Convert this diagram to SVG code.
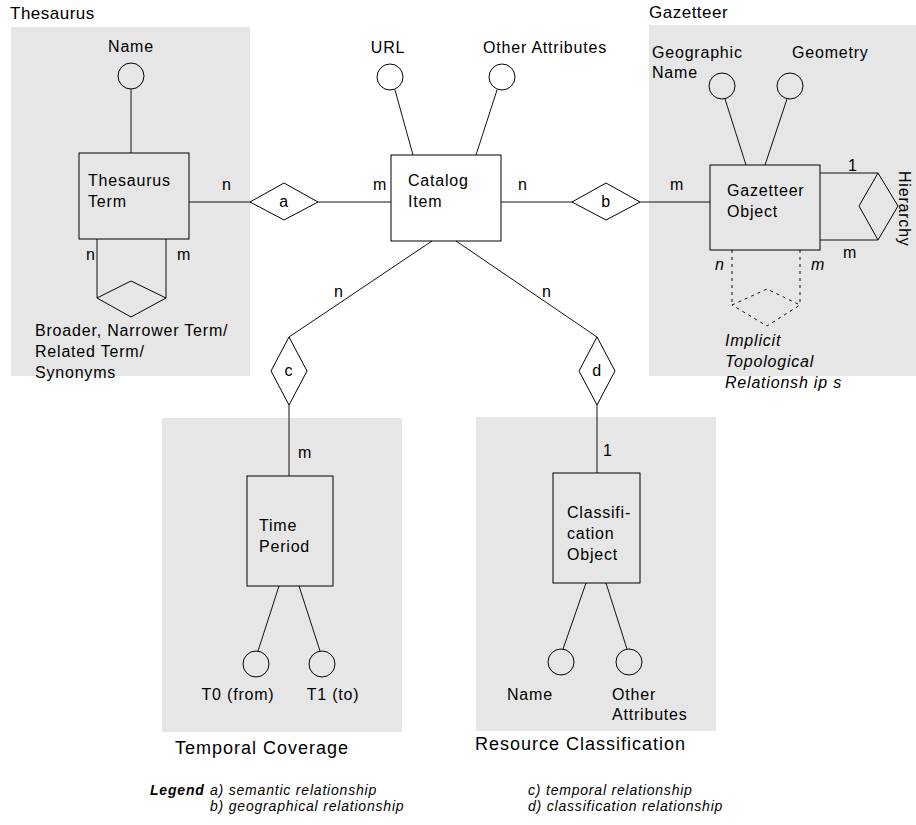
<svg xmlns="http://www.w3.org/2000/svg" width="916" height="825" viewBox="0 0 916 825">
<style>
text{font-family:"Liberation Sans",Arial,sans-serif;font-size:16px;letter-spacing:0.8px;fill:#000}
.t{font-size:18px;letter-spacing:1px}
.tt{font-size:17px;letter-spacing:0.5px}
.ital{font-style:italic}
.lg{font-style:italic;font-size:14px;letter-spacing:0.8px}
.lgb{font-style:italic;font-weight:bold;font-size:14px;letter-spacing:0.8px}
.mid{text-anchor:middle}
.panel{fill:#e6e6e6;stroke:none}
.box{fill:none;stroke:#000;stroke-width:1}
.ln{fill:none;stroke:#111;stroke-width:1}
.dash{fill:none;stroke:#111;stroke-width:1;stroke-dasharray:3,4}
</style>
<g id="panels">
<rect class="panel" x="11" y="27" width="239" height="349"/>
<rect class="panel" x="649" y="25" width="267" height="351"/>
<rect class="panel" x="162" y="418" width="240" height="314"/>
<rect class="panel" x="476" y="417" width="240" height="314"/>
<text class="tt" x="10" y="19">Thesaurus</text>
<text class="tt" x="649" y="18">Gazetteer</text>
<text class="t" x="175" y="754">Temporal Coverage</text>
<text class="t" x="475" y="750">Resource Classification</text>
</g>
<g id="connectors">
<line class="ln" x1="131" y1="89" x2="131" y2="153"/>
<line class="ln" x1="189" y1="202" x2="250" y2="202"/>
<line class="ln" x1="318" y1="202" x2="391" y2="202"/>
<line class="ln" x1="97" y1="239" x2="97" y2="298"/>
<line class="ln" x1="166" y1="239" x2="166" y2="298"/>
<line class="ln" x1="395" y1="90" x2="413" y2="155"/>
<line class="ln" x1="497" y1="90" x2="476" y2="155"/>
<line class="ln" x1="501" y1="202" x2="572" y2="202"/>
<line class="ln" x1="640" y1="202" x2="710" y2="202"/>
<line class="ln" x1="725" y1="99" x2="746" y2="165"/>
<line class="ln" x1="787" y1="99" x2="765" y2="165"/>
<line class="ln" x1="820" y1="173" x2="878" y2="173"/>
<line class="ln" x1="820" y1="240" x2="878" y2="240"/>
<line class="dash" x1="732" y1="250" x2="732" y2="305"/>
<line class="dash" x1="800" y1="250" x2="800" y2="305"/>
<line class="ln" x1="432" y1="241" x2="289" y2="337"/>
<line class="ln" x1="456" y1="241" x2="597" y2="337"/>
<line class="ln" x1="289" y1="405" x2="289" y2="476"/>
<line class="ln" x1="597" y1="405" x2="597" y2="473"/>
<line class="ln" x1="279" y1="586" x2="258" y2="651"/>
<line class="ln" x1="299" y1="586" x2="320" y2="651"/>
<line class="ln" x1="586" y1="583" x2="563" y2="649"/>
<line class="ln" x1="606" y1="583" x2="627" y2="649"/>
<text x="222" y="190">n</text>
<text x="373" y="190">m</text>
<text x="518" y="190">n</text>
<text x="670" y="190">m</text>
<text x="86" y="260">n</text>
<text x="177" y="260">m</text>
<text x="848" y="171">1</text>
<text x="843" y="258">m</text>
<text class="ital" x="715" y="270">n</text>
<text class="ital" x="811" y="270">m</text>
<text x="334" y="297">n</text>
<text x="542" y="297">n</text>
<text x="298" y="458">m</text>
<text x="603" y="456">1</text>
</g>
<g id="thesaurus-name">
<text class="mid" x="131" y="52">Name</text>
<circle class="box" cx="131" cy="76" r="13"/>
</g>
<g id="thesaurus-term">
<rect class="box" x="79" y="153" width="110" height="86"/>
<text x="88" y="186">Thesaurus</text>
<text x="88" y="207">Term</text>
</g>
<g id="rel-a">
<polygon class="box" points="250,202 284,183 318,202 284,220"/>
<text class="mid" x="284" y="207">a</text>
</g>
<g id="rel-broader">
<polygon class="box" points="97,298 131,281 166,298 131,317"/>
<text x="35" y="336">Broader, Narrower Term/</text>
<text x="35" y="357">Related Term/</text>
<text x="35" y="378">Synonyms</text>
</g>
<g id="catalog-item">
<rect class="box" x="391" y="155" width="110" height="86"/>
<text x="408" y="186">Catalog</text>
<text x="408" y="207">Item</text>
</g>
<g id="url">
<text class="mid" x="388" y="53">URL</text>
<circle class="box" cx="390" cy="77" r="13"/>
</g>
<g id="other-attributes">
<text class="mid" x="545" y="53">Other Attributes</text>
<circle class="box" cx="502" cy="77" r="13"/>
</g>
<g id="rel-b">
<polygon class="box" points="572,202 606,183 640,202 606,220"/>
<text class="mid" x="606" y="207">b</text>
</g>
<g id="geographic-name">
<text x="652" y="58">Geographic</text>
<text x="652" y="78">Name</text>
<circle class="box" cx="722" cy="86" r="13"/>
</g>
<g id="geometry">
<text x="792" y="58">Geometry</text>
<circle class="box" cx="790" cy="86" r="13"/>
</g>
<g id="gazetteer-object">
<rect class="box" x="710" y="165" width="110" height="85"/>
<text x="727" y="196">Gazetteer</text>
<text x="727" y="217">Object</text>
</g>
<g id="rel-hierarchy">
<polygon class="box" points="878,173 898,206 878,240 859,206"/>
<text transform="translate(899,171) rotate(90)">Hierarchy</text>
</g>
<g id="rel-topological">
<polygon class="dash" points="732,305 767,289 800,305 767,326"/>
<text class="ital" x="725" y="346">Implicit</text>
<text class="ital" x="725" y="367">Topological</text>
<text class="ital" x="725" y="388">Relationsh ip s</text>
</g>
<g id="rel-c">
<polygon class="box" points="289,337 307,371 289,405 271,371"/>
<text class="mid" x="289" y="376">c</text>
</g>
<g id="rel-d">
<polygon class="box" points="597,337 615,371 597,405 579,371"/>
<text class="mid" x="597" y="376">d</text>
</g>
<g id="time-period">
<rect class="box" x="247" y="476" width="86" height="110"/>
<text x="259" y="531">Time</text>
<text x="259" y="552">Period</text>
</g>
<g id="t0">
<circle class="box" cx="256" cy="664" r="13"/>
<text class="mid" x="238" y="700">T0 (from)</text>
</g>
<g id="t1">
<circle class="box" cx="322" cy="664" r="13"/>
<text class="mid" x="333" y="700">T1 (to)</text>
</g>
<g id="classification-object">
<rect class="box" x="553" y="473" width="87" height="110"/>
<text x="567" y="518">Classifi-</text>
<text x="567" y="539">cation</text>
<text x="567" y="560">Object</text>
</g>
<g id="class-name">
<circle class="box" cx="561" cy="662" r="13"/>
<text x="507" y="700">Name</text>
</g>
<g id="class-other">
<circle class="box" cx="629" cy="662" r="13"/>
<text x="612" y="700">Other</text>
<text x="612" y="720">Attributes</text>
</g>
<g id="legend">
<text class="lgb" x="150" y="795">Legend</text>
<text class="lg" x="210" y="795">a) semantic relationship</text>
<text class="lg" x="210" y="811">b) geographical relationship</text>
<text class="lg" x="528" y="795">c) temporal relationship</text>
<text class="lg" x="528" y="811">d) classification relationship</text>
</g>
</svg>
